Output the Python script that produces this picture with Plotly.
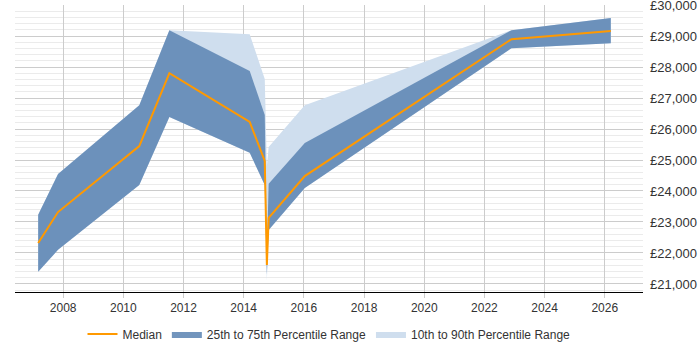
import plotly.graph_objects as go

years = [2007.17, 2007.83, 2010.53, 2011.53, 2014.2, 2014.7, 2014.77, 2014.83, 2016.03, 2022.9, 2026.2]
median = [22320, 23320, 25450, 27800, 26230, 24970, 21610, 23130, 24480, 28900, 29160]
p25 = [21390, 22100, 24190, 26390, 25230, 24190, 21300, 22740, 24100, 28610, 28770]
p75 = [23230, 24550, 26770, 29190, 27870, 26450, 22000, 24230, 25550, 29190, 29580]
p10 = [21390, 22100, 24190, 26390, 25230, 24190, 21100, 22740, 24100, 28610, 28770]
p90 = [23230, 24550, 26770, 29190, 29060, 27610, 24800, 25420, 26770, 29190, 29580]

y_ticks = list(range(21000, 30001, 1000))
y_labels = ["£{:,}".format(v) for v in y_ticks]
x_ticks = list(range(2008, 2027, 2))

fig = go.Figure()
fig.add_trace(go.Scatter(
    x=years + years[::-1], y=p90 + p10[::-1], fill="toself",
    fillcolor="#cfdeee", line=dict(width=0), mode="lines",
    name="10th to 90th Percentile Range", legendrank=3, hoverinfo="skip"))
fig.add_trace(go.Scatter(
    x=years + years[::-1], y=p75 + p25[::-1], fill="toself",
    fillcolor="rgba(95,134,180,0.88)", line=dict(width=0), mode="lines",
    name="25th to 75th Percentile Range", legendrank=2, hoverinfo="skip"))
fig.add_trace(go.Scatter(
    x=years, y=median, mode="lines", line=dict(color="#ff9900", width=2),
    name="Median", legendrank=1))

fig.update_layout(
    width=700, height=350,
    margin=dict(l=15, r=57, t=5, b=58, autoexpand=False),
    paper_bgcolor="white", plot_bgcolor="white",
    font=dict(family="Liberation Sans, Arial, sans-serif", size=12, color="#333"),
    showlegend=True,
    legend=dict(orientation="h", x=0.5, xanchor="center", y=-0.146, yanchor="middle",
                font=dict(size=12, color="#333"), itemwidth=30),
)
fig.update_xaxes(
    range=[2006.4, 2027.27], tickvals=x_ticks, ticktext=[str(v) for v in x_ticks],
    showgrid=True, gridcolor="#cccccc", gridwidth=1,
    showline=True, linecolor="#000", linewidth=1,
    ticks="outside", ticklen=5, tickcolor="#ccc", zeroline=False,
)
fig.update_yaxes(
    range=[20740, 30002], side="right", tickvals=y_ticks, ticktext=y_labels,
    tickfont=dict(size=13), ticklabeloverflow="allow",
    showgrid=True, gridcolor="#cccccc", gridwidth=1, zeroline=False,
    minor=dict(dtick=200, tick0=0, showgrid=True, gridcolor="#ebebeb"),
    showline=False, ticks="", ticklabelstandoff=6,
)

fig.write_html("out.html")
